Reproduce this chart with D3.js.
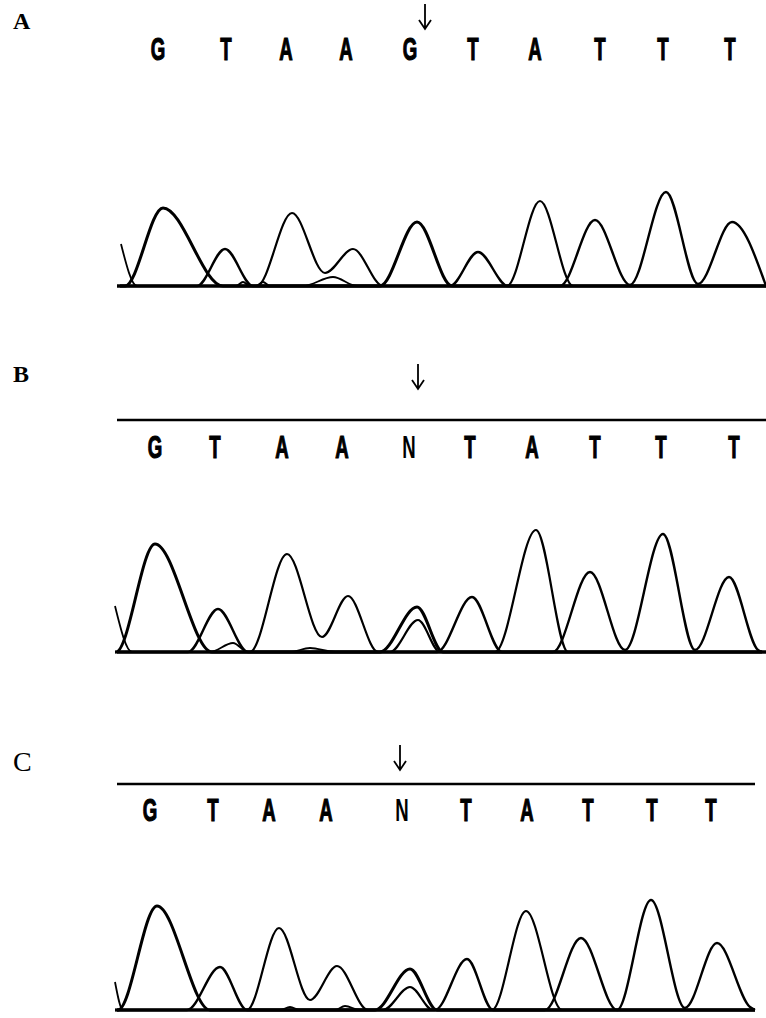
<!DOCTYPE html>
<html>
<head>
<meta charset="utf-8">
<script src="https://cdn.jsdelivr.net/npm/d3@7"></script>
<style>
  body { margin: 0; background: #fff; }
  svg { display: block; }
</style>
</head>
<body>
<div id="chart"></div>
<script>
// base calls for each panel
const basesA = ["G", "T", "A", "A", "G", "T", "A", "T", "T", "T"];
const basesB = ["G", "T", "A", "A", "N", "T", "A", "T", "T", "T"];
const basesC = ["G", "T", "A", "A", "N", "T", "A", "T", "T", "T"];

// scan position of each base call
const callsA = [58, 126, 186, 246, 310, 373, 435, 500, 563, 630];
const callsB = [55, 115, 182, 242, 309, 370, 432, 495, 561, 634];
const callsC = [50, 113, 169, 226, 302, 366, 427, 488, 552, 611];

// scan of the mutation site (arrow)
const siteA = 325, siteB = 318, siteC = 300;

// traces: [scan, signal]
const traceA_G = [[20,0],[25,0],[63,78],[123,0],[280,0],[317,64],[352,0],[666,0]];
const traceA_T = [[20,0],[97,0],[125,37],[153,0],[350,0],[378,34],[408,0],[460,0],[495,66],[530,1],[566,94],[598,2],[632,64],[666,0]];
const traceA_A = [[20,0],[157,0],[192,73],[225,13],[253,37],[283,0],[407,0],[440,85],[473,0],[666,0]];
const traceA_C = [[21,42],[37,0],[136,0],[143,4],[150,0],[156,0],[163,4],[170,0],[203,0],[233,9],[257,0],[666,0]];

const traceB_G = [[15,0],[16,0],[55,108],[112,0],[280,0],[317,45],[343,0],[662,0]];
const traceB_T = [[15,0],[88,0],[118,43],[148,0],[337,0],[372,55],[402,0],[453,0],[490,80],[525,2],[563,118],[595,2],[629,75],[658,2],[662,0]];
const traceB_A = [[15,0],[150,0],[187,98],[222,15],[248,56],[278,0],[290,0],[318,32],[340,0],[395,0],[436,122],[468,0],[662,0]];
const traceB_C = [[15,46],[32,0],[110,0],[133,9],[148,0],[190,0],[210,4],[235,0],[662,0]];

const traceC_G = [[15,0],[18,0],[57,104],[110,0],[275,0],[310,41],[337,0],[655,0]];
const traceC_T = [[15,0],[87,0],[120,43],[147,0],[335,0],[367,51],[393,0],[445,0],[481,72],[517,0],[551,110],[585,2],[617,67],[650,3],[655,0]];
const traceC_A = [[15,0],[147,0],[179,82],[210,10],[237,44],[268,0],[283,0],[310,23],[333,0],[392,0],[426,99],[462,0],[655,0]];
const traceC_C = [[15,28],[23,0],[180,0],[190,3],[200,0],[235,0],[245,4],[260,0],[655,0]];

const width = 766, height = 1018;

const svg = d3.select("#chart").append("svg")
  .attr("width", width)
  .attr("height", height);

// same scan scale for the three panels
const x = d3.scaleLinear().domain([0, 660]).range([100, 760]);

const panels = [
  { name: "A", bases: basesA, calls: callsA, site: siteA,
    traces: { G: traceA_G, T: traceA_T, A: traceA_A, C: traceA_C },
    base: 286, labelY: 29, labelWeight: "bold", labelSize: 24,
    arrowTop: 4, letterY: 60, ruleY: null, scanEnd: 666 },
  { name: "B", bases: basesB, calls: callsB, site: siteB,
    traces: { G: traceB_G, T: traceB_T, A: traceB_A, C: traceB_C },
    base: 652, labelY: 382, labelWeight: "bold", labelSize: 24,
    arrowTop: 364, letterY: 458, ruleY: 420, scanEnd: 666 },
  { name: "C", bases: basesC, calls: callsC, site: siteC,
    traces: { G: traceC_G, T: traceC_T, A: traceC_A, C: traceC_C },
    base: 1010, labelY: 771, labelWeight: "normal", labelSize: 28,
    arrowTop: 745, letterY: 821, ruleY: 784, scanEnd: 655 }
];

// line weight per dye
const dyeWidth = { G: 3.0, A: 2.2, T: 2.4, C: 1.8 };
const arrowLen = 25;

panels.forEach(p => {
  const y = d3.scaleLinear().domain([0, 100]).range([p.base, p.base - 100]);
  const g = svg.append("g");

  // panel letter
  g.append("text")
    .attr("x", 13)
    .attr("y", p.labelY)
    .attr("font-family", "Liberation Serif, Times New Roman, serif")
    .attr("font-weight", p.labelWeight)
    .attr("font-size", p.labelSize)
    .text(p.name);

  // arrow at mutation site
  const ax = x(p.site);
  g.append("path")
    .attr("d", `M${ax},${p.arrowTop} V${p.arrowTop + arrowLen} M${ax - 6},${p.arrowTop + arrowLen - 9} L${ax},${p.arrowTop + arrowLen} L${ax + 6},${p.arrowTop + arrowLen - 9}`)
    .attr("fill", "none")
    .attr("stroke", "#000")
    .attr("stroke-width", 1.8);

  // rule above the sequence
  if (p.ruleY !== null) {
    g.append("line")
      .attr("x1", x(17)).attr("x2", x(p.scanEnd))
      .attr("y1", p.ruleY).attr("y2", p.ruleY)
      .attr("stroke", "#000")
      .attr("stroke-width", 2.5);
  }

  // base calls (tall condensed letters)
  g.selectAll("text.base")
    .data(p.bases)
    .enter()
    .append("text")
    .attr("class", "base")
    .attr("transform", (d, i) => `translate(${x(p.calls[i])},${p.letterY}) scale(0.6,1)`)
    .attr("text-anchor", "middle")
    .attr("font-family", "Liberation Sans, Arial, sans-serif")
    .attr("font-weight", "bold")
    .attr("font-size", 31)
    .attr("stroke", "#000")
    .attr("stroke-width", d => d === "N" ? 0 : 1.2)
    .text(d => d);

  // baseline
  g.append("line")
    .attr("x1", x(17)).attr("x2", x(p.scanEnd))
    .attr("y1", y(0)).attr("y2", y(0))
    .attr("stroke", "#000")
    .attr("stroke-width", 3.5);

  const line = d3.line()
    .x(d => x(d[0]))
    .y(d => y(d[1]))
    .curve(d3.curveMonotoneX);

  Object.keys(p.traces).forEach(dye => {
    g.append("path")
      .attr("d", line(p.traces[dye]))
      .attr("fill", "none")
      .attr("stroke", "#000")
      .attr("stroke-width", dyeWidth[dye])
      .attr("stroke-linejoin", "round");
  });
});
</script>
</body>
</html>
